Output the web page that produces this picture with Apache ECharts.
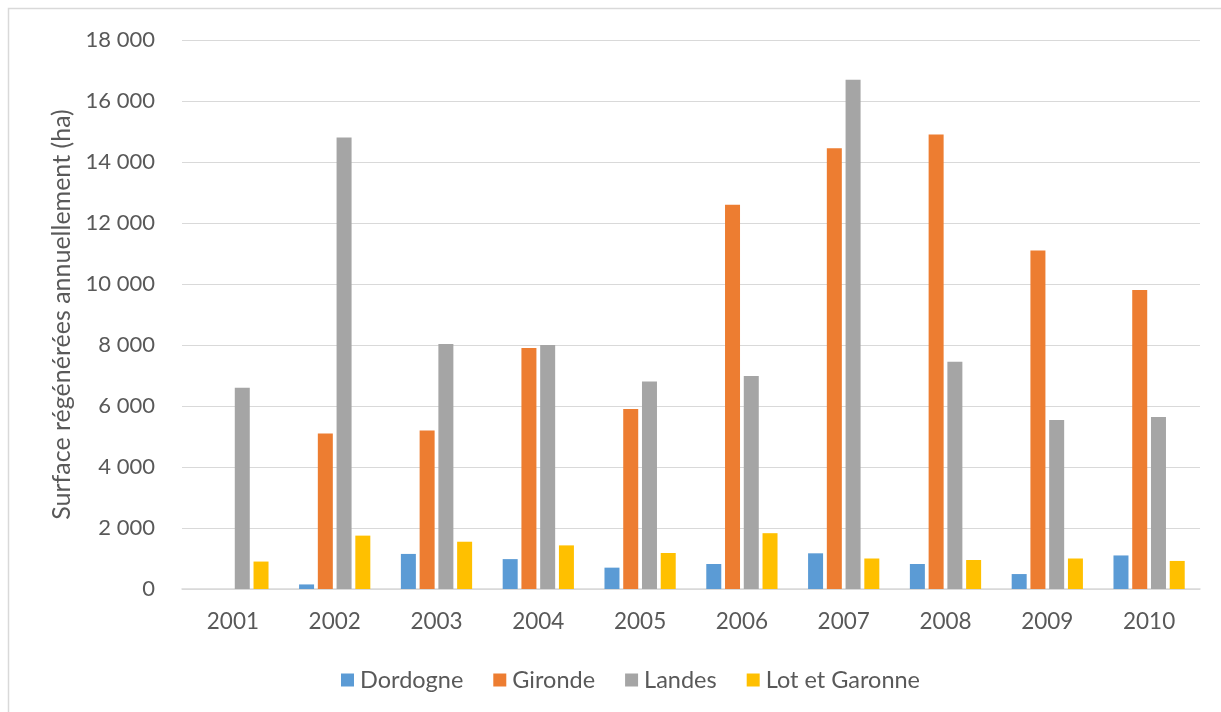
<!DOCTYPE html>
<html>
<head>
<meta charset="utf-8">
<script src="https://cdn.jsdelivr.net/npm/echarts@6/dist/echarts.min.js"></script>
<style>
  html, body { margin: 0; padding: 0; background: #fff; }
  #chart { width: 1221px; height: 712px; }
</style>
</head>
<body>
<div id="chart"></div>
<script>
// Surfaces régénérées annuellement par département (ha)
const years = ['2001', '2002', '2003', '2004', '2005', '2006', '2007', '2008', '2009', '2010'];
const dordogne = [0, 150, 1150, 980, 700, 820, 1170, 820, 490, 1100];
const gironde = [0, 5100, 5200, 7900, 5900, 12600, 14450, 14900, 11100, 9800];
const landes = [6600, 14800, 8030, 8000, 6800, 6980, 16700, 7450, 5540, 5640];
const lotEtGaronne = [900, 1750, 1550, 1430, 1180, 1830, 1000, 950, 1000, 920];
const seriesNames = ['Dordogne', 'Gironde', 'Landes', 'Lot et Garonne'];
const colors = ['#5B9BD5', '#ED7D31', '#A5A5A5', '#FFC000'];

const font = 'Lato, "Open Sans", sans-serif';
const chart = echarts.init(document.getElementById('chart'), null, { renderer: 'canvas' });

const fmt = v => String(v).replace(/\B(?=(\d{3})+(?!\d))/g, ' ');

const seriesData = [dordogne, gironde, landes, lotEtGaronne];

chart.setOption({
  animation: false,
  backgroundColor: '#ffffff',
  color: colors,
  textStyle: { fontFamily: font },
  graphic: [{
    type: 'rect',
    shape: { x: 8.5, y: 8.5, width: 1400, height: 900 },
    style: { fill: 'none', stroke: '#d9d9d9', lineWidth: 1.5 },
    silent: true,
    z: -10
  }],
  grid: { left: 182, right: 21, top: 40, bottom: 123, containLabel: false },
  legend: {
    data: seriesNames,
    left: 336,
    top: 663,
    itemWidth: 13,
    itemHeight: 13,
    itemGap: 30,
    icon: 'rect',
    textStyle: { fontFamily: font, fontSize: 23.5, color: '#595959', padding: [0, 0, 0, 1] }
  },
  xAxis: {
    type: 'category',
    data: years,
    axisLine: { lineStyle: { color: '#d9d9d9', width: 1.5 } },
    axisTick: { show: false },
    axisLabel: { fontFamily: font, fontSize: 22.5, color: '#595959', margin: 21 }
  },
  yAxis: {
    type: 'value',
    min: 0,
    max: 18000,
    interval: 2000,
    name: 'Surface régénérées annuellement (ha)',
    nameLocation: 'middle',
    nameGap: 106,
    nameTextStyle: { fontFamily: font, fontSize: 25, color: '#595959' },
    axisLine: { show: false },
    axisTick: { show: false },
    splitLine: { lineStyle: { color: '#d9d9d9', width: 1 } },
    axisLabel: { fontFamily: font, fontSize: 22, color: '#595959', margin: 27, formatter: fmt }
  },
  series: seriesNames.map((name, i) => ({
    name: name,
    type: 'bar',
    data: seriesData[i],
    barWidth: 15,
    barGap: '25%',
    itemStyle: { color: colors[i] }
  }))
});
</script>
</body>
</html>
